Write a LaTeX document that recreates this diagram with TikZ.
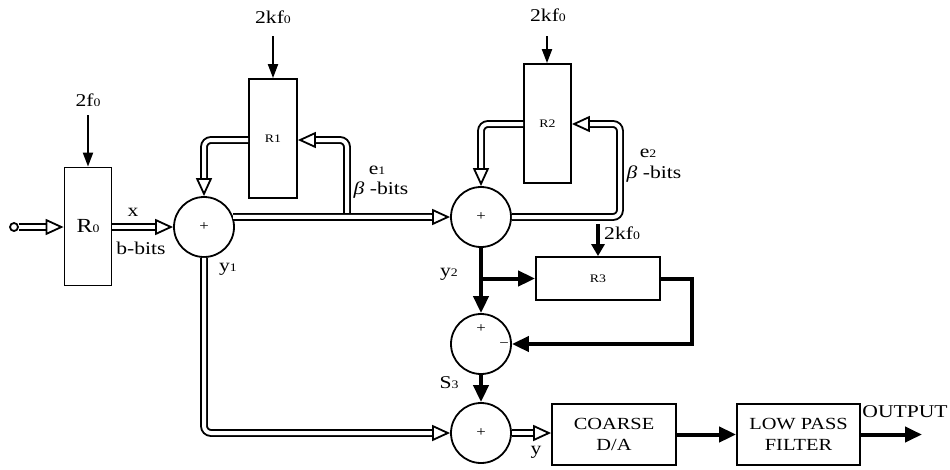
\documentclass[tikz,border=0pt]{standalone}
\usepackage{fontspec}
\setmainfont{Liberation Serif}[FakeStretch=1.2]
\usetikzlibrary{arrows.meta,calc}
\newcommand\sd[1]{{\fontsize{11.5}{11.5}\selectfont #1}}
\begin{document}
\begin{tikzpicture}[x=1pt,y=-1pt,
  box/.style={draw, line width=1.8pt, inner sep=0pt, fill=white},
  sumnode/.style={circle, draw, line width=1.8pt, minimum size=60pt, inner sep=0pt, fill=white},
  dbl/.style={line width=1.9pt, double=white, double distance=4pt, rounded corners=7pt},
  dblarrow/.style={dbl, -{Triangle[open, length=18pt, width=16pt, line width=1.8pt]}},
  thk/.style={line width=4pt, -{Triangle[length=17pt, width=15pt]}},
  clk/.style={line width=2pt, -{Triangle[length=14pt, width=10pt]}},
  clkthk/.style={line width=4pt, -{Triangle[length=12pt, width=13pt]}},
  lbl/.style={font=\fontsize{18}{20}\selectfont, inner sep=0pt},
  small/.style={font=\fontsize{11.5}{12}\selectfont, inner sep=0pt},
  sign/.style={font=\fontsize{14}{14}\selectfont, inner sep=0pt}]
\useasboundingbox (0,0) rectangle (950,469);

% nodes
\node[circle, draw, line width=1.8pt, minimum size=8pt, inner sep=0pt] (in) at (14,227) {};
\node[box, minimum width=47pt, minimum height=118pt, font=\fontsize{20}{20}\selectfont] (R0) at (88,226.5) {R\sd{0}};
\node[sumnode] (s1) at (204,227) {};
\node[box, minimum width=48pt, minimum height=119pt] (R1) at (273,138.5) {};
\node[sumnode] (s2) at (481,217) {};
\node[box, minimum width=47pt, minimum height=119pt] (R2) at (547.5,123.5) {};
\node[box, minimum width=124pt, minimum height=43pt] (R3) at (598,278.5) {};
\node[sumnode] (s3) at (481,344) {};
\node[sumnode] (s4) at (481,433) {};
\node[box, minimum width=124pt, minimum height=61pt, align=center, font=\fontsize{17}{21}\selectfont] (DA) at (614,434.5) {COARSE\\D/A};
\node[box, minimum width=123pt, minimum height=61pt, align=center, font=\fontsize{17}{21}\selectfont] (LPF) at (798.5,434.5) {LOW PASS\\FILTER};

% labels inside
\node[small] (tR1) at (R1) {R1};
\node[small] (tR2) at (R2) {R2};
\node[small] (tR3) at (R3) {R3};
\node[sign] (p1) at (s1) {+};
\node[sign] (p2) at (s2) {+};
\node[sign] (p3) at (481,329) {+};
\node[sign] (m3) at (504,345) {−};
\node[sign] (p4) at (s4) {+};

% coordinates
\coordinate (t1) at (347,217);
\coordinate (c1) at (347,140);
\coordinate (c2b) at (620,217);
\coordinate (c2) at (620,124);
\coordinate (c3) at (692,300);
\coordinate (out) at (922,434.5);
\coordinate (k0) at (88,115);
\coordinate (k1) at (273,36);
\coordinate (k2) at (547,36);
\coordinate (k3) at (598,224);

% double connectors
\draw[dblarrow] (in) -- (in -| R0.west);
\draw[dblarrow] (R0.east |- in) -- (s1.west);
\draw[dblarrow] (t1) -- (c1) -- (c1 -| R1.east);
\draw[dblarrow] (s1.19) -- (s2.west);
\draw[dblarrow] (c1 -| R1.west) -| (s1.north);
\draw[dblarrow] (s2.east) -- (c2b) -- (c2) -- (c2 -| R2.east);
\draw[dblarrow] (c2 -| R2.west) -| (s2.north);
\draw[dblarrow] (s1.south) |- (s4.west);
\draw[dblarrow] (s4.east) -- (DA.west |- s4.east);

% thick connectors
\draw[thk] (s2.south) -- (s3.north);
\draw[thk] (s2.south |- R3.west) -- (R3.west);
\draw[thk] (R3.east) -- (R3.east -| c3) |- (s3.east);
\draw[thk] (s3.south) -- (s4.north);
\draw[thk] (DA.east) -- (LPF.west);
\draw[thk] (LPF.east) -- (out);

% clocks
\draw[clk] (k0) -- (R0.north);
\draw[clk] (k1) -- (R1.north);
\draw[clk] (k2) -- (R2.north -| k2);
\draw[clkthk] (k3) -- (R3.north -| k3);
\node[lbl] (l0) at (88,100) {2f\sd0};
\node[lbl] (l1) at (273,17) {2kf\sd0};
\node[lbl] (l2) at (548,15) {2kf\sd0};
\node[lbl, anchor=west] (l3) at (604,233) {2kf\sd0};

% signal labels
\node[lbl] (lx) at (133,212) {x};
\node[lbl] (lb) at (141,248) {b-bits};
\node[lbl] (ly1) at (228,269) {y\sd1};
\node[lbl] (le1) at (377,170) {e\sd1};
\node[lbl] (lbe1) at (381,190) {\textit{β} -bits};
\node[lbl] (le2) at (648,153) {e\sd2};
\node[lbl] (lbe2) at (654,174) {\textit{β} -bits};
\node[lbl] (ly2) at (449,274) {y\sd2};
\node[lbl] (lS3) at (449,383) {S\sd3};
\node[lbl] (ly) at (536,452) {y};
\node[lbl] (lout) at (905,412) {OUTPUT};
\end{tikzpicture}
\end{document}
